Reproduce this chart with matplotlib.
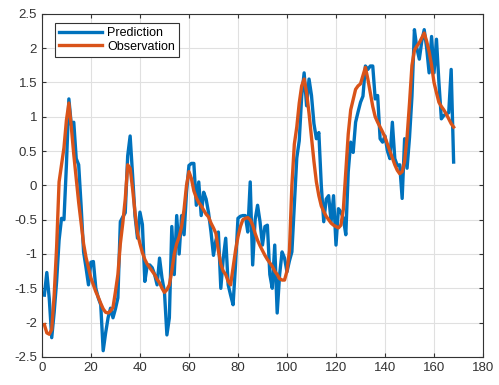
import matplotlib
matplotlib.use('Agg')
import matplotlib.pyplot as plt
import numpy as np

plt.rcParams['font.family'] = ['Liberation Sans', 'DejaVu Sans']
plt.rcParams['axes.unicode_minus'] = False

# one value per sample
prediction = [
    -1.6, -1.27, -1.65, -2.22, -1.85, -1.4, -0.8, -0.48, -0.5, 0.3,
    1.26, 0.88, 0.92, 0.39, 0.3, -0.3, -0.97, -1.2, -1.45, -1.12,
    -1.11, -1.5, -1.64, -1.74, -2.41, -2.15, -1.93, -1.79, -1.93, -1.8,
    -1.64, -0.53, -0.46, -0.4, 0.43, 0.72, 0.15, -0.45, -0.77, -0.39,
    -0.57, -1.4, -1.16, -1.16, -1.2, -1.3, -1.45, -1.06, -1.35, -1.55,
    -2.18, -1.93, -0.6, -1.3, -0.44, -1.0, -0.44, -0.72, -0.1, 0.29,
    0.32, 0.32, -0.29, 0.05, -0.44, -0.1, -0.2, -0.4, -0.68, -1.02,
    -0.8, -0.68, -1.5, -1.06, -0.77, -1.45, -1.6, -1.74, -1.16, -0.48,
    -0.45, -0.44, -0.44, -0.68, 0.05, -1.16, -0.5, -0.29, -0.53, -0.87,
    -0.6, -0.58, -1.3, -1.5, -0.87, -1.86, -1.3, -0.97, -1.06, -1.26,
    -1.1, -0.97, -0.29, 0.4, 0.65, 1.3, 1.64, 1.16, 1.55, 1.31,
    0.9, 0.68, 0.77, 0.0, -0.53, -0.2, -0.15, -0.53, -0.15, -0.87,
    -0.34, -0.39, -0.48, -0.72, 0.2, 0.63, 0.48, 0.92, 1.07, 1.21,
    1.3, 1.74, 1.69, 1.74, 1.74, 1.26, 1.31, 0.68, 0.63, 0.72,
    0.5, 0.39, 0.92, 0.39, 0.29, 0.3, -0.19, 0.68, 0.25, 0.7,
    1.3, 2.27, 2.0, 1.84, 2.1, 2.27, 2.0, 1.64, 2.17, 1.64,
    2.13, 1.5, 0.97, 1.02, 1.04, 1.06, 1.69, 0.34,
]
observation = [
    -2.03, -2.15, -2.17, -2.1, -1.6, -0.9, 0.05, 0.3, 0.55, 0.95,
    1.2, 0.85, 0.45, 0.1, -0.25, -0.55, -0.85, -1.05, -1.2, -1.35,
    -1.45, -1.55, -1.63, -1.72, -1.8, -1.85, -1.86, -1.83, -1.78, -1.55,
    -1.3, -0.85, -0.55, -0.2, 0.3, 0.25, -0.05, -0.4, -0.7, -0.85,
    -0.98, -1.08, -1.15, -1.2, -1.25, -1.3, -1.37, -1.42, -1.5, -1.56,
    -1.52, -1.45, -1.25, -1.0, -0.85, -0.75, -0.6, -0.35, 0.0, 0.2,
    0.1, -0.08, -0.18, -0.25, -0.3, -0.36, -0.42, -0.46, -0.55, -0.62,
    -0.7, -0.95, -1.15, -1.25, -1.3, -1.4, -1.45, -1.2, -0.95, -0.75,
    -0.6, -0.5, -0.48, -0.47, -0.5, -0.58, -0.7, -0.8, -0.88, -0.95,
    -1.02, -1.08, -1.13, -1.18, -1.25, -1.3, -1.36, -1.38, -1.38, -1.25,
    -0.95, 0.0, 0.6, 0.85, 1.2, 1.45, 1.55, 1.35, 1.05, 0.7,
    0.35, 0.05, -0.15, -0.3, -0.38, -0.45, -0.5, -0.55, -0.58, -0.6,
    -0.62, -0.58, -0.35, 0.2, 0.75, 1.1, 1.25, 1.4, 1.45, 1.48,
    1.6, 1.72, 1.55, 1.35, 1.15, 1.0, 0.92, 0.85, 0.78, 0.7,
    0.6, 0.5, 0.4, 0.3, 0.22, 0.17, 0.2, 0.35, 0.7, 1.2,
    1.75, 1.97, 2.03, 2.08, 2.15, 2.22, 2.1, 1.95, 1.75, 1.5,
    1.35, 1.21, 1.15, 1.1, 1.04, 0.97, 0.9, 0.85,
]
x = np.arange(1, len(prediction) + 1)

fig = plt.figure(figsize=(4.99, 3.85), dpi=100)
ax = fig.add_axes([0.084, 0.073, 0.884, 0.891])

ax.plot(x, prediction, color=(0, 0.447, 0.741), lw=2.4, label='Prediction')
ax.plot(x, observation, color=(0.85, 0.325, 0.098), lw=2.4, label='Observation')

ax.set_xlim(0, 180)
ax.set_ylim(-2.5, 2.5)
ax.set_xticks(np.arange(0, 181, 20))
ax.set_yticks(np.arange(-2.5, 2.51, 0.5))
ax.set_yticklabels(['-2.5', '-2', '-1.5', '-1', '-0.5', '0', '0.5', '1', '1.5', '2', '2.5'])
ax.grid(True, color='#e0e0e0', lw=0.8)
ax.set_axisbelow(True)
ax.tick_params(direction='in', top=True, right=True, labelsize=9.5, colors='#333333', length=3)
for s in ax.spines.values():
    s.set_color('#333333')
    s.set_linewidth(0.8)

leg = ax.legend(loc='upper left', fontsize=9, handlelength=3.4, borderaxespad=0.7,
                bbox_to_anchor=(0.01, 1.0),
                fancybox=False, edgecolor='#333333', framealpha=1,
                labelspacing=0.15, borderpad=0.35, handletextpad=0.4)
leg.get_frame().set_linewidth(0.8)

fig.savefig('out.png', dpi=100)
